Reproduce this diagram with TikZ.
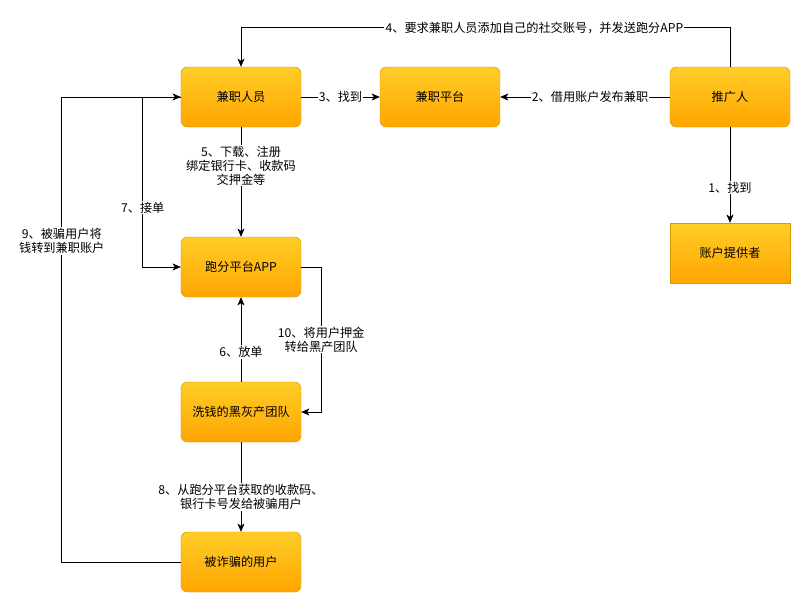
\documentclass[tikz,border=0pt]{standalone}
\usepackage{fontspec}
\setmainfont{Noto Sans CJK SC}
\usepackage{xcolor}
\usepackage{tikz}
\usetikzlibrary{arrows.meta}
\usetikzlibrary{shapes}

\definecolor{boxtop}{HTML}{FFCD28}
\definecolor{boxbot}{HTML}{FFA500}
\definecolor{boxline}{HTML}{D79B00}

\tikzset{
    box/.style = {draw = boxline, top color = boxtop, bottom color = boxbot,
        rounded corners = 5.4pt, minimum width = 3.6cm, minimum height = 1.8cm,
        font = \fontsize{10.4pt}{12pt}\selectfont},
    sharpbox/.style = {box, rounded corners = 0pt},
    flow/.style = {-{Stealth[length = 7pt, width = 6pt, inset = 2pt]}, line width = 0.5pt},
    tag/.style = {fill = white, inner sep = 1pt, align = center,
        font = \fontsize{10.4pt}{12pt}\selectfont}
}

\begin{document}
\begin{tikzpicture}[x = 0.03cm, y = -0.03cm]
    \useasboundingbox (0, 0) rectangle (811, 613);

    \node[box] (worker) at (241, 97) {兼职人员};
    \node[box] (platform) at (440, 97) {兼职平台};
    \node[box] (promoter) at (730, 97) {推广人};
    \node[sharpbox] (provider) at (730, 253) {账户提供者};
    \node[box] (app) at (241, 267) {跑分平台APP};
    \node[box] (gang) at (241, 412) {洗钱的黑灰产团队};
    \node[box] (victim) at (241, 562) {被诈骗的用户};

    \draw[flow] (promoter) -- (provider)
        node[tag, pos = 0.63] {1、找到};
    \draw[flow] (promoter) -- (platform)
        node[tag, pos = 0.47] {2、借用账户发布兼职};
    \draw[flow] (worker) -- (platform)
        node[tag, pos = 0.5] {3、找到};
    \draw[flow] (promoter.north) -- ++(0, -39) -| (worker.north)
        node[tag, pos = 0.2] {4、要求兼职人员添加自己的社交账号，并发送跑分APP};
    \draw[flow] (worker) -- (app)
        node[tag, pos = 0.35] {5、下载、注册\\绑定银行卡、收款码\\交押金等};
    \draw[flow] (gang) -- (app)
        node[tag, pos = 0.35] {6、放单};
    \draw[flow] (worker.west) -- ++(-38, 0) |- (app.west)
        node[tag, pos = 0.325] {7、接单};
    \draw[flow] (gang) -- (victim)
        node[tag, pos = 0.61] {8、从跑分平台获取的收款码、\\银行卡号发给被骗用户};
    \draw[flow] (victim.west) -- ++(-119, 0) |- (worker.west)
        node[tag, pos = 0.345] {9、被骗用户将\\钱转到兼职账户};
    \draw[flow] (app.east) -- ++(20, 0) |- (gang.east)
        node[tag, pos = 0.25] {10、将用户押金\\转给黑产团队};
\end{tikzpicture}
\end{document}
